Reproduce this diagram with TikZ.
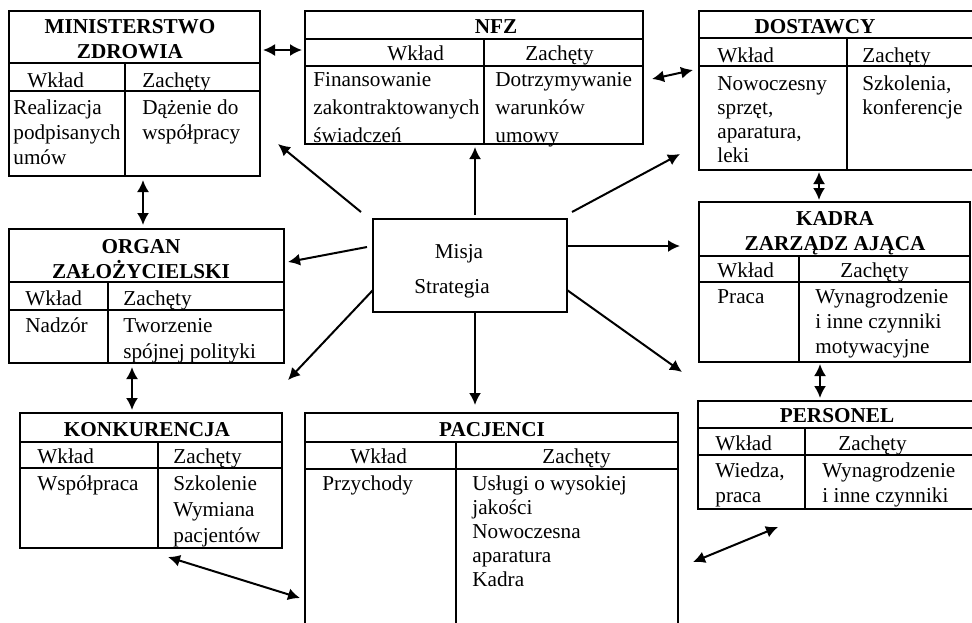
\documentclass[tikz,border=0pt]{standalone}
\usepackage{fontspec}
\setmainfont{Liberation Serif}
\usetikzlibrary{arrows.meta}
\newcommand{\kom}[1]{\begin{tabular}[t]{@{}l@{}}#1\end{tabular}}
\newcommand{\kol}[1]{\begin{tabular}[t]{@{}c@{}}#1\end{tabular}}
\tikzset{
	rama/.style={line width=1},
	strz/.style={line width=1,-{Latex[length=6pt,width=6pt]}},
	strzd/.style={line width=1,{Latex[length=6pt,width=6pt]}-{Latex[length=6pt,width=6pt]}},
	tekst/.style={anchor=base west,inner sep=0,font=\fontsize{10.6}{12.5}\selectfont},
	tytul/.style={anchor=base,inner sep=0,font=\fontsize{10.6}{12.5}\selectfont\bfseries}
}
\begin{document}
\begin{tikzpicture}[x=0.5pt,y=-0.5pt]
			\clip (0,0) rectangle (972,622);
			%ministerstwo
			\begin{scope}[shift={(9,11)}]
				\draw[rama] (0,0) rectangle (251,165);
				\draw[rama] (0,52) -- (251,52);
				\draw[rama] (0,80) -- (251,80);
				\draw[rama] (116,52) -- (116,165);
				\node[tytul] (min-tyt) at (121,22) {\kol{MINISTERSTWO\\ZDROWIA}};
				\node[tekst] (min-wk) at (18,76) {Wkład};
				\node[tekst] (min-za) at (133,76) {Zachęty};
				\node[tekst] (min-wk1) at (4,103) {\kom{Realizacja\\podpisanych\\umów}};
				\node[tekst] (min-za1) at (133,103) {\kom{Dążenie do\\współpracy}};
			\end{scope}
			%nfz
			\begin{scope}[shift={(305,11)}]
				\draw[rama] (0,0) rectangle (338,133);
				\draw[rama] (0,28) -- (338,28);
				\draw[rama] (0,55) -- (338,55);
				\draw[rama] (179,28) -- (179,133);
				\node[tytul] (nfz-tyt) at (191,22) {NFZ};
				\node[tekst] (nfz-wk) at (82,49) {Wkład};
				\node[tekst] (nfz-za) at (220,49) {Zachęty};
				\node[tekst,font=\fontsize{10.6}{14}\selectfont] (nfz-wk1) at (8,75) {\kom{Finansowanie\\zakontraktowanych\\świadczeń}};
				\node[tekst,font=\fontsize{10.6}{14}\selectfont] (nfz-za1) at (190,75) {\kom{Dotrzymywanie\\warunków\\umowy}};
			\end{scope}
			%dostawcy
			\begin{scope}[shift={(699,11)}]
				\draw[rama] (0,0) rectangle (281,159);
				\draw[rama] (0,27) -- (281,27);
				\draw[rama] (0,55) -- (281,55);
				\draw[rama] (148,27) -- (148,159);
				\node[tytul] (dos-tyt) at (116,22) {DOSTAWCY};
				\node[tekst] (dos-wk) at (18,51) {Wkład};
				\node[tekst] (dos-za) at (163,51) {Zachęty};
				\node[tekst,font=\fontsize{10.6}{12}\selectfont] (dos-wk1) at (18,79) {\kom{Nowoczesny\\sprzęt,\\aparatura,\\leki}};
				\node[tekst,font=\fontsize{10.6}{12}\selectfont] (dos-za1) at (163,79) {\kom{Szkolenia,\\konferencje}};
			\end{scope}
			%kadra zarzadzajaca
			\begin{scope}[shift={(699,202)}]
				\draw[rama] (0,0) rectangle (271,160);
				\draw[rama] (0,54) -- (271,54);
				\draw[rama] (0,80) -- (271,80);
				\draw[rama] (100,54) -- (100,160);
				\node[tytul] (kad-tyt) at (136,23) {\kol{KADRA\\ZARZĄDZ AJĄCA}};
				\node[tekst] (kad-wk) at (18,75) {Wkład};
				\node[tekst] (kad-za) at (141,75) {Zachęty};
				\node[tekst] (kad-wk1) at (18,101) {Praca};
				\node[tekst] (kad-za1) at (116,101) {\kom{Wynagrodzenie\\i inne czynniki\\motywacyjne}};
			\end{scope}
			%organ zalozycielski
			\begin{scope}[shift={(9,229)}]
				\draw[rama] (0,0) rectangle (275,134);
				\draw[rama] (0,53) -- (275,53);
				\draw[rama] (0,81) -- (275,81);
				\draw[rama] (99,53) -- (99,134);
				\node[tytul,font=\fontsize{10.6}{12}\selectfont\bfseries] (org-tyt) at (132,24) {\kol{ORGAN\\ZAŁOŻYCIELSKI}};
				\node[tekst] (org-wk) at (16,76) {Wkład};
				\node[tekst] (org-za) at (114,76) {Zachęty};
				\node[tekst] (org-wk1) at (16,103) {Nadzór};
				\node[tekst,font=\fontsize{10.6}{13}\selectfont] (org-za1) at (114,103) {\kom{Tworzenie\\spójnej polityki}};
			\end{scope}
			%personel
			\begin{scope}[shift={(698,401)}]
				\draw[rama] (0,0) rectangle (282,108);
				\draw[rama] (0,27) -- (282,27);
				\draw[rama] (0,54) -- (282,54);
				\draw[rama] (107,27) -- (107,108);
				\node[tytul] (per-tyt) at (139,21) {PERSONEL};
				\node[tekst] (per-wk) at (17,49) {Wkład};
				\node[tekst] (per-za) at (140,49) {Zachęty};
				\node[tekst] (per-wk1) at (17,76) {\kom{Wiedza,\\praca}};
				\node[tekst] (per-za1) at (124,76) {\kom{Wynagrodzenie\\i inne czynniki}};
			\end{scope}
			%konkurencja
			\begin{scope}[shift={(20,413)}]
				\draw[rama] (0,0) rectangle (262,135);
				\draw[rama] (0,29) -- (262,29);
				\draw[rama] (0,55) -- (262,55);
				\draw[rama] (138,29) -- (138,135);
				\node[tytul] (kon-tyt) at (127,23) {KONKURENCJA};
				\node[tekst] (kon-wk) at (17,50) {Wkład};
				\node[tekst] (kon-za) at (153,50) {Zachęty};
				\node[tekst] (kon-wk1) at (17,77) {Współpraca};
				\node[tekst,font=\fontsize{10.6}{13}\selectfont] (kon-za1) at (153,77) {\kom{Szkolenie\\Wymiana\\pacjentów}};
			\end{scope}
			%pacjenci
			\begin{scope}[shift={(305,413)}]
				\draw[rama] (0,0) rectangle (373,217);
				\draw[rama] (0,29) -- (373,29);
				\draw[rama] (0,56) -- (373,56);
				\draw[rama] (151,29) -- (151,217);
				\node[tytul] (pac-tyt) at (187,23) {PACJENCI};
				\node[tekst] (pac-wk) at (45,50) {Wkład};
				\node[tekst] (pac-za) at (237,50) {Zachęty};
				\node[tekst] (pac-wk1) at (17,77) {Przychody};
				\node[tekst,font=\fontsize{10.6}{12}\selectfont] (pac-za1) at (167,77) {\kom{Usługi o wysokiej\\jakości\\Nowoczesna\\aparatura\\Kadra}};
			\end{scope}
			%misja
			\draw[rama] (373,219) rectangle (567,312);
			\node[tytul,font=\fontsize{10.6}{12.5}\selectfont] (misja) at (459,258) {Misja};
			\node[tytul,font=\fontsize{10.6}{12.5}\selectfont] (strategia) at (452,293) {Strategia};
			%punkty strzalek
			\path (263,50) coordinate (min-e) (302,50) coordinate (nfz-w)
				(652,79) coordinate (nfz-e) (693,70) coordinate (dos-w)
				(143,180) coordinate (min-s) (143,225) coordinate (org-n)
				(132,367) coordinate (org-s) (132,410) coordinate (kon-n)
				(819,172) coordinate (dos-s) (819,200) coordinate (kad-n)
				(820,364) coordinate (kad-s) (820,398) coordinate (per-n)
				(168,557) coordinate (kon-se) (300,598) coordinate (pac-w)
				(693,562) coordinate (pac-e) (778,527) coordinate (per-sw);
			\path (361,212) coordinate (m1) (278,144) coordinate (m1k)
				(475,215) coordinate (m2) (475,147) coordinate (m2k)
				(572,212) coordinate (m3) (680,154) coordinate (m3k)
				(367,247) coordinate (m4) (288,262) coordinate (m4k)
				(567,246) coordinate (m5) (680,246) coordinate (m5k)
				(373,290) coordinate (m6) (288,380) coordinate (m6k)
				(475,312) coordinate (m7) (475,405) coordinate (m7k)
				(567,290) coordinate (m8) (682,372) coordinate (m8k);
			%strzalki
			\draw[strzd] (min-e) -- (nfz-w);
			\draw[strzd] (nfz-e) -- (dos-w);
			\draw[strzd] (min-s) -- (org-n);
			\draw[strzd] (org-s) -- (kon-n);
			\draw[strzd] (dos-s) -- (kad-n);
			\draw[strzd] (kad-s) -- (per-n);
			\draw[strzd] (kon-se) -- (pac-w);
			\draw[strzd] (pac-e) -- (per-sw);
			\draw[strz] (m1) -- (m1k);
			\draw[strz] (m2) -- (m2k);
			\draw[strz] (m3) -- (m3k);
			\draw[strz] (m4) -- (m4k);
			\draw[strz] (m5) -- (m5k);
			\draw[strz] (m6) -- (m6k);
			\draw[strz] (m7) -- (m7k);
			\draw[strz] (m8) -- (m8k);
\end{tikzpicture}
\end{document}
